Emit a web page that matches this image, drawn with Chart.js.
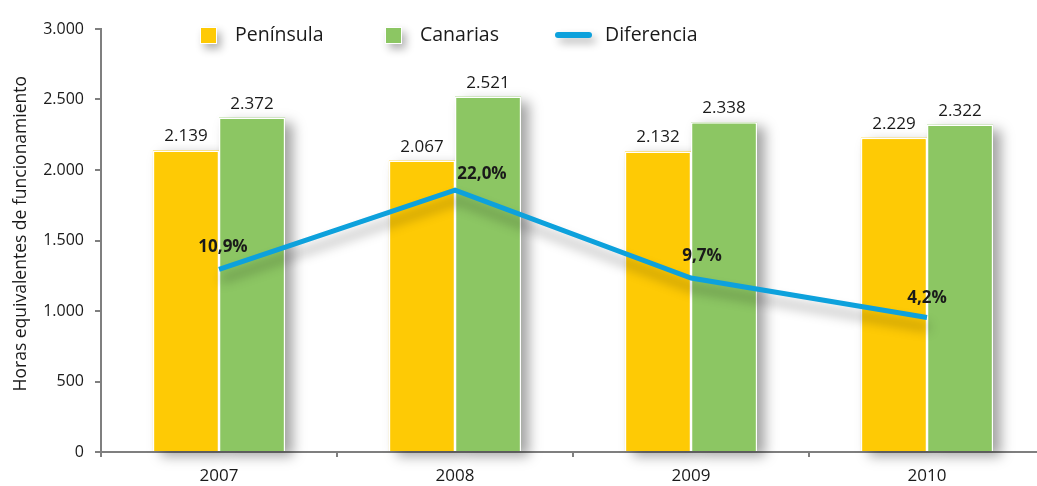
<!DOCTYPE html>
<html>
<head>
<meta charset="utf-8">
<script src="https://cdn.jsdelivr.net/npm/chart.js@4.4.1/dist/chart.umd.min.js"></script>
<style>
html, body { margin: 0; padding: 0; overflow: hidden; background: #fff; }
#wrap { width: 1050px; height: 486px; }
</style>
</head>
<body>
<div id="wrap"><canvas id="horasChart" width="1050" height="486"></canvas></div>
<script>
const years = ['2007', '2008', '2009', '2010'];
const peninsula = [2139, 2067, 2132, 2229];
const canarias = [2372, 2521, 2338, 2322];
const diferencia = [10.9, 22.0, 9.7, 4.2];
const yTickMax = 3000;
const yTickStep = 500;

const FONT = "'Open Sans', 'Noto Sans', sans-serif";
const YELLOW = '#FECA05';
const GREEN = '#8CC663';
const BLUE = '#0DA1DC';

function fmtMiles(v) {
    return String(v).replace(/\B(?=(\d{3})+(?!\d))/g, '.');
}
function fmtPct(v) {
    return v.toFixed(1).replace('.', ',') + '%';
}

// soft drop shadows: bar shadows are painted first (yellow, then green),
// the line gets its shadow while it is drawn
const shadowPlugin = {
    id: 'shadows',
    beforeDatasetsDraw(chart) {
        const ctx = chart.ctx;
        chart.data.datasets.forEach((ds, i) => {
            const meta = chart.getDatasetMeta(i);
            if (meta.type !== 'bar') return;
            meta.data.forEach(el => {
                ctx.save();
                ctx.shadowColor = 'rgba(0,0,0,0.36)';
                ctx.shadowBlur = 12;
                ctx.shadowOffsetX = 8;
                ctx.shadowOffsetY = 5;
                ctx.fillStyle = ds.backgroundColor;
                ctx.fillRect(el.x - el.width / 2, el.y, el.width, el.base - el.y);
                ctx.restore();
            });
        });
    },
    beforeDatasetDraw(chart, args) {
        if (args.meta.type !== 'line') return;
        const ctx = chart.ctx;
        ctx.save();
        ctx.shadowColor = 'rgba(0,0,0,0.35)';
        ctx.shadowBlur = 12;
        ctx.shadowOffsetX = 2;
        ctx.shadowOffsetY = 10;
    },
    afterDatasetDraw(chart, args) {
        if (args.meta.type !== 'line') return;
        chart.ctx.restore();
    }
};

// value labels above bars, percentages near the line points
const pctLabelShift = [[4, -22], [27, -16], [11, -22], [0, -19]];
const labelPlugin = {
    id: 'valueLabels',
    afterDatasetsDraw(chart) {
        const ctx = chart.ctx;
        ctx.save();
        ctx.textAlign = 'center';
        ctx.fillStyle = '#1a1a1a';
        chart.data.datasets.forEach((ds, i) => {
            const meta = chart.getDatasetMeta(i);
            meta.data.forEach((el, j) => {
                if (meta.type === 'bar') {
                    ctx.font = '17px ' + FONT;
                    ctx.textBaseline = 'alphabetic';
                    ctx.fillText(fmtMiles(ds.data[j]), el.x, el.y - 9);
                } else {
                    ctx.font = 'bold 17px ' + FONT;
                    ctx.textBaseline = 'middle';
                    ctx.fillText(fmtPct(ds.data[j]), el.x + pctLabelShift[j][0], el.y + pctLabelShift[j][1]);
                }
            });
        });
        ctx.restore();
    }
};

// legend row at the top
const legendX = [200, 385, 555];
const legendPlugin = {
    id: 'topLegend',
    afterDraw(chart) {
        const ctx = chart.ctx;
        const y = 35;
        chart.data.datasets.forEach((ds, i) => {
            const x = legendX[i];
            ctx.save();
            ctx.shadowColor = 'rgba(0,0,0,0.3)';
            ctx.shadowBlur = 8;
            ctx.shadowOffsetX = 4;
            ctx.shadowOffsetY = 5;
            let textX;
            if (ds.type === 'line') {
                ctx.strokeStyle = ds.borderColor;
                ctx.lineWidth = 6;
                ctx.lineCap = 'round';
                ctx.beginPath();
                ctx.moveTo(x + 3, y);
                ctx.lineTo(x + 34, y);
                ctx.stroke();
                textX = x + 50;
            } else {
                ctx.fillStyle = ds.backgroundColor;
                ctx.fillRect(x, y - 8, 17, 17);
                ctx.shadowColor = 'transparent';
                ctx.strokeStyle = '#fff';
                ctx.lineWidth = 1;
                ctx.strokeRect(x + 0.5, y - 7.5, 16, 16);
                textX = x + 35;
            }
            ctx.restore();
            ctx.save();
            ctx.font = '19.5px ' + FONT;
            ctx.fillStyle = '#1a1a1a';
            ctx.textBaseline = 'middle';
            ctx.fillText(ds.label, textX, y);
            ctx.restore();
        });
    }
};

const ctx = document.getElementById('horasChart').getContext('2d');
new Chart(ctx, {
    data: {
        labels: years,
        datasets: [{
            type: 'bar',
            label: 'Península',
            data: peninsula,
            backgroundColor: YELLOW,
            borderColor: '#ffffff',
            borderWidth: 1.5,
            clip: false,
            yAxisID: 'y'
        }, {
            type: 'bar',
            label: 'Canarias',
            data: canarias,
            backgroundColor: GREEN,
            borderColor: '#ffffff',
            borderWidth: 1.5,
            clip: false,
            yAxisID: 'y'
        }, {
            type: 'line',
            label: 'Diferencia',
            data: diferencia,
            borderColor: BLUE,
            backgroundColor: BLUE,
            borderWidth: 5,
            pointRadius: 0,
            tension: 0,
            borderCapStyle: 'butt',
            order: -1,
            yAxisID: 'y1'
        }]
    },
    options: {
        responsive: false,
        animation: false,
        layout: { padding: { top: 29, right: 5, bottom: 0, left: 0 } },
        datasets: {
            bar: { categoryPercentage: 0.56, barPercentage: 1.0 }
        },
        plugins: {
            legend: { display: false },
            tooltip: { enabled: false }
        },
        scales: {
            x: {
                z: 1,
                offset: true,
                grid: {
                    offset: true,
                    drawOnChartArea: false,
                    tickLength: 5,
                    color: '#7f7f7f',
                    lineWidth: 2
                },
                border: { display: true, color: '#7f7f7f', width: 2 },
                ticks: {
                    color: '#1a1a1a',
                    padding: 9,
                    font: { family: FONT, size: 17 }
                },
                afterFit(scale) { scale.height = 34; }
            },
            y: {
                z: 1,
                min: 0,
                max: yTickMax,
                ticks: {
                    stepSize: yTickStep,
                    color: '#1a1a1a',
                    padding: 11,
                    font: { family: FONT, size: 16 },
                    callback: v => fmtMiles(v)
                },
                grid: {
                    drawOnChartArea: false,
                    tickLength: 6,
                    color: '#7f7f7f',
                    lineWidth: 2
                },
                border: { display: true, color: '#7f7f7f', width: 2 },
                title: {
                    display: true,
                    text: '   Horas equivalentes de funcionamiento',
                    color: '#1a1a1a',
                    font: { family: FONT, size: 17.5 },
                    padding: { top: 11, bottom: 0 }
                },
                afterFit(scale) { scale.width = 101; }
            },
            y1: {
                display: false,
                min: -14.6,
                max: 44.5
            }
        }
    },
    plugins: [shadowPlugin, labelPlugin, legendPlugin]
});
</script>
</body>
</html>
